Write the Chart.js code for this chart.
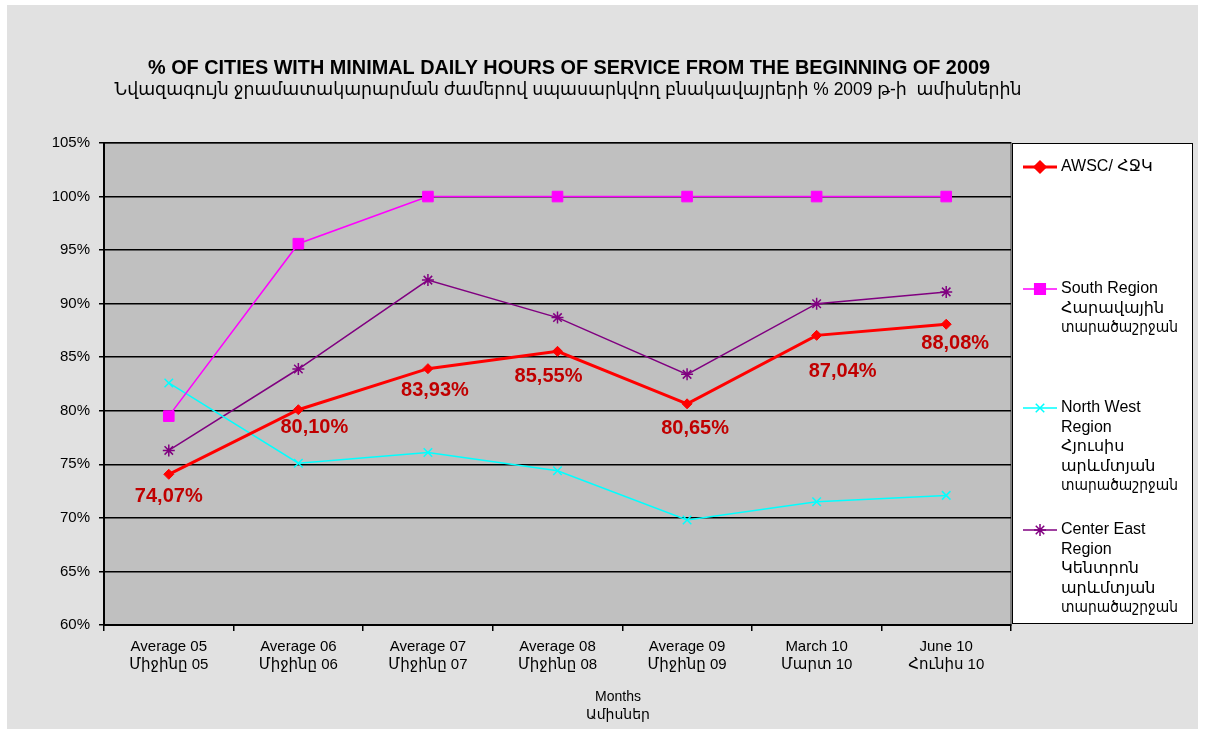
<!DOCTYPE html>
<html lang="hy">
<head>
  <meta charset="UTF-8">
  <title>% of cities with minimal daily hours of service</title>
  <script src="https://cdn.jsdelivr.net/npm/chart.js"></script>
  <style>
    body { margin: 0; background: #ffffff; }
    canvas { display: block; }
  </style>
</head>
<body>
  <canvas id="graphique" width="1205" height="733"></canvas>

  <script>
    // categories (two lines each: english / armenian)
    const mois = [
      ['Average 05', 'Միջինը 05'],
      ['Average 06', 'Միջինը 06'],
      ['Average 07', 'Միջինը 07'],
      ['Average 08', 'Միջինը 08'],
      ['Average 09', 'Միջինը 09'],
      ['March 10', 'Մարտ 10'],
      ['June 10', 'Հունիս 10']
    ];

    // series values, %
    const awsc = [74.07, 80.10, 83.93, 85.55, 80.65, 87.04, 88.08];
    const sud = [79.5, 95.6, 100, 100, 100, 100, 100];
    const nordOuest = [82.6, 75.1, 76.1, 74.4, 69.8, 71.5, 72.1];
    const centreEst = [76.3, 83.9, 92.2, 88.7, 83.4, 90.0, 91.1];

    // legend texts
    const nomsSeries = [
      ['AWSC/ ՀՋԿ'],
      ['South Region', 'Հարավային', 'տարածաշրջան'],
      ['North West', 'Region', 'Հյուսիս', 'արևմտյան', 'տարածաշրջան'],
      ['Center East', 'Region', 'Կենտրոն', 'արևմտյան', 'տարածաշրջան']
    ];

    const titre1 = '% OF CITIES WITH MINIMAL DAILY HOURS OF SERVICE FROM THE BEGINNING OF 2009';
    const titre2 = 'Նվազագույն ջրամատակարարման ժամերով սպասարկվող բնակավայրերի % 2009 թ-ի  ամիսներին';
    const titreAxeX = ['Months', 'Ամիսներ'];

    const yMin = 60, yMax = 105, yPas = 5;

    const police = "'Liberation Sans', Arial, 'DejaVu Sans', sans-serif";

    // label offsets for the AWSC values (px, relative to the point)
    const decalages = [[0, 22], [16, 18], [7, 22], [-9, 25], [8, 25], [26, 36], [9, 19]];

    const fondPlugin = {
      id: 'fond',
      beforeDraw(chart) {
        const ctx = chart.ctx;
        const a = chart.chartArea;
        ctx.save();
        ctx.fillStyle = '#e1e1e1';
        ctx.fillRect(7, 5, 1191, 724);
        ctx.fillStyle = '#c0c0c0';
        ctx.fillRect(a.left, a.top, a.right - a.left, a.bottom - a.top);
        ctx.strokeStyle = '#808080';
        ctx.lineWidth = 2;
        ctx.strokeRect(a.left, a.top, a.right - a.left, a.bottom - a.top);
        ctx.restore();
      }
    };

    const etiquettesPlugin = {
      id: 'etiquettes',
      afterDatasetsDraw(chart) {
        const ctx = chart.ctx;
        const meta = chart.getDatasetMeta(0);
        ctx.save();
        ctx.font = 'bold 20px ' + police;
        ctx.fillStyle = '#c00000';
        ctx.textAlign = 'center';
        ctx.textBaseline = 'middle';
        meta.data.forEach((pt, i) => {
          const txt = awsc[i].toFixed(2).replace('.', ',') + '%';
          ctx.fillText(txt, pt.x + decalages[i][0], pt.y + decalages[i][1]);
        });
        ctx.restore();
      }
    };

    const textesPlugin = {
      id: 'textes',
      afterDraw(chart) {
        const ctx = chart.ctx;
        ctx.save();
        ctx.fillStyle = '#000';
        ctx.textAlign = 'center';
        ctx.textBaseline = 'middle';
        ctx.font = 'bold 20px ' + police;
        ctx.fillText(titre1, 569, 68, 842);
        ctx.font = '17.5px ' + police;
        ctx.fillText(titre2, 568, 90, 907);

        ctx.font = '14px ' + police;
        ctx.fillText(titreAxeX[0], 618, 697);
        ctx.fillText(titreAxeX[1], 618, 715);

        // legend
        ctx.fillStyle = '#ffffff';
        ctx.fillRect(1012, 143, 180, 480);
        ctx.strokeStyle = '#000';
        ctx.lineWidth = 1;
        ctx.strokeRect(1012.5, 143.5, 180, 480);

        const hauts = [167, 289, 408, 530];
        chart.data.datasets.forEach((ds, i) => {
          const y = hauts[i];
          ctx.strokeStyle = ds.borderColor;
          ctx.fillStyle = ds.borderColor;
          ctx.lineWidth = ds.borderWidth;
          ctx.beginPath();
          ctx.moveTo(1023, y);
          ctx.lineTo(1057, y);
          ctx.stroke();
          Chart.helpers.drawPoint(ctx, {
            pointStyle: ds.pointStyle,
            radius: ds.pointRadius,
            rotation: 0,
            borderWidth: ds.pointBorderWidth
          }, 1040, y);
          ctx.fillStyle = '#000';
          ctx.textAlign = 'left';
          ctx.font = '16px ' + police;
          nomsSeries[i].forEach((ligne, k) => {
            ctx.fillText(ligne, 1061, y + k * 19.5, 117);
          });
        });
        ctx.restore();
      }
    };

    new Chart(document.getElementById('graphique'), {
      type: 'line',
      data: {
        labels: mois,
        datasets: [
          {
            label: nomsSeries[0].join(' '), data: awsc,
            borderColor: '#ff0000', backgroundColor: '#ff0000', borderWidth: 3,
            pointStyle: 'rectRot', pointRadius: 5, pointBorderWidth: 1
          },
          {
            label: nomsSeries[1].join(' '), data: sud,
            borderColor: '#ff00ff', backgroundColor: '#ff00ff', borderWidth: 1.5,
            pointStyle: 'rect', pointRadius: 7.5, pointBorderWidth: 1
          },
          {
            label: nomsSeries[2].join(' '), data: nordOuest,
            borderColor: '#00ffff', backgroundColor: '#00ffff', borderWidth: 1.5,
            pointStyle: 'crossRot', pointRadius: 6, pointBorderWidth: 1.5
          },
          {
            label: nomsSeries[3].join(' '), data: centreEst,
            borderColor: '#800080', backgroundColor: '#800080', borderWidth: 1.5,
            pointStyle: 'star', pointRadius: 6, pointBorderWidth: 1.5
          }
        ]
      },
      options: {
        responsive: false,
        animation: false,
        layout: { padding: { top: 143, right: 194, left: 0, bottom: 0 } },
        plugins: {
          legend: { display: false },
          title: { display: false },
          tooltip: { enabled: false }
        },
        scales: {
          x: {
            offset: true,
            afterFit(scale) { scale.height = 108; },
            grid: {
              offset: true, drawOnChartArea: false, drawTicks: true,
              tickLength: 6, color: '#000', lineWidth: 1.5
            },
            border: { color: '#000', width: 2 },
            ticks: {
              autoSkip: false, maxRotation: 0, padding: 7,
              color: '#000', font: { family: police, size: 15, lineHeight: 1.2 }
            }
          },
          y: {
            min: yMin, max: yMax,
            afterFit(scale) { scale.width = 104; },
            grid: { color: '#000', lineWidth: 1.5, tickLength: 5 },
            border: { color: '#000', width: 2 },
            ticks: {
              stepSize: yPas, padding: 9, color: '#000',
              font: { family: police, size: 15 },
              callback: v => v + '%'
            }
          }
        }
      },
      plugins: [fondPlugin, etiquettesPlugin, textesPlugin]
    });
  </script>
</body>
</html>
